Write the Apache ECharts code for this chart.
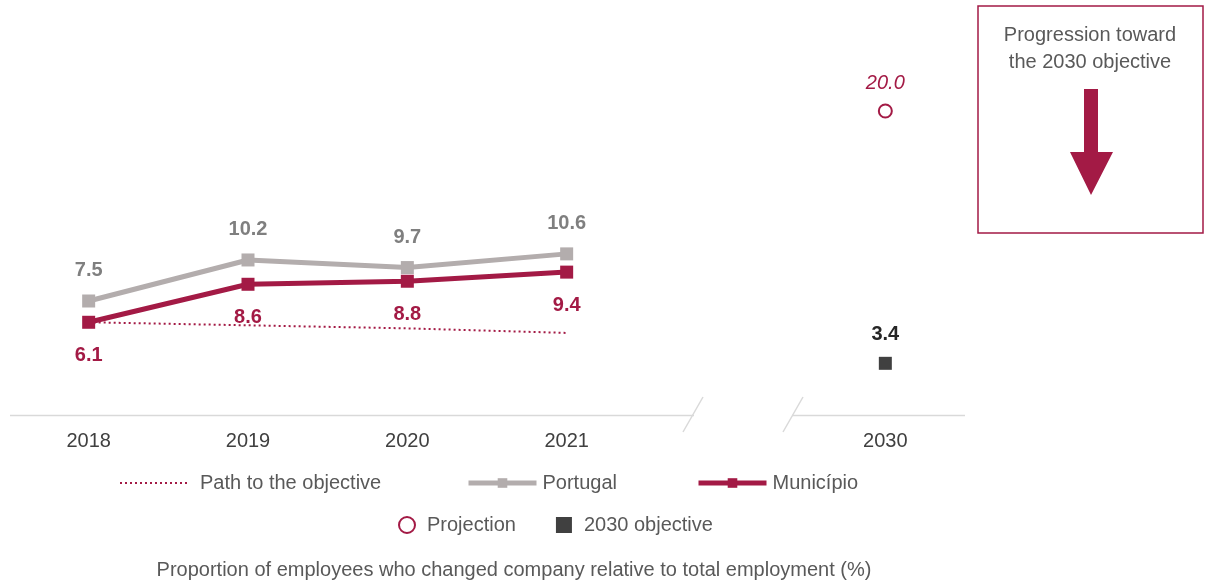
<!DOCTYPE html>
<html>
<head>
<meta charset="utf-8">
<script src="https://cdn.jsdelivr.net/npm/echarts/dist/echarts.min.js"></script>
<style>
  html, body { margin: 0; padding: 0; background: #fff; }
  #chart { width: 1206px; height: 585px; }
</style>
</head>
<body>
<div id="chart"></div>
<script>
const years = ['2018', '2019', '2020', '2021', '', '2030']
const pathToObjective = [6.1, 5.9, 5.7, 5.4, null, null]
const portugal = [7.5, 10.2, 9.7, 10.6, null, null]
const municipio = [6.1, 8.6, 8.8, 9.4, null, null]
const projection = [null, null, null, null, null, 20.0]
const objective2030 = [null, null, null, null, null, 3.4]

const CRIMSON = '#A31A45'
const GREY = '#B3ADAD'
const DARK = '#404040'
const FONT = '"Liberation Sans", Arial, sans-serif'

const chart = echarts.init(document.getElementById('chart'))

const legendText = { fontSize: 20, color: '#595959', fontFamily: FONT }

function lineLegend(name, left, gap, extra) {
  return {
    left,
    top: 473,
    padding: 0,
    itemWidth: 68,
    itemHeight: 12,
    textStyle: Object.assign({ padding: [0, 0, 0, gap] }, legendText),
    data: [Object.assign({ name }, extra || {})]
  }
}

chart.setOption({
  animation: false,
  textStyle: { fontFamily: FONT },
  grid: { left: 9, right: 241, top: 35, bottom: 170 },
  legend: [
    lineLegend('Path to the objective', 119, 7, { itemStyle: { opacity: 0 }, lineStyle: { width: 2 } }),
    lineLegend('Portugal', 466, 1, { lineStyle: { width: 5 } }),
    lineLegend('Município', 696, 1, { lineStyle: { width: 5 } }),
    {
      left: 398,
      top: 515,
      padding: 0,
      itemWidth: 16,
      itemHeight: 16,
      itemGap: 40,
      textStyle: Object.assign({ padding: [0, 0, 0, 7] }, legendText),
      data: [
        { name: 'Projection', icon: 'emptyCircle', itemStyle: { borderWidth: 2.5 } },
        { name: '2030 objective', icon: 'rect' }
      ]
    }
  ],
  xAxis: {
    type: 'category',
    data: years,
    boundaryGap: true,
    axisLine: { show: false },
    axisTick: { show: false },
    axisLabel: { color: '#404040', fontSize: 20, margin: 16, interval: 0 }
  },
  yAxis: {
    type: 'value',
    min: 0,
    max: 25,
    show: false,
    splitLine: { show: false }
  },
  series: [
    {
      name: 'Path to the objective',
      type: 'line',
      data: pathToObjective,
      symbol: 'none',
      lineStyle: { color: CRIMSON, width: 2, type: [2, 3] },
      itemStyle: { color: CRIMSON },
      z: 1
    },
    {
      name: 'Portugal',
      type: 'line',
      data: portugal,
      symbol: 'rect',
      symbolSize: 13,
      lineStyle: { color: GREY, width: 5 },
      itemStyle: { color: GREY },
      label: {
        show: true,
        position: 'top',
        distance: 14,
        color: '#7F7F7F',
        fontSize: 20,
        fontWeight: 'bold',
        formatter: (p) => p.value.toFixed(1)
      },
      z: 2
    },
    {
      name: 'Município',
      type: 'line',
      data: municipio,
      symbol: 'rect',
      symbolSize: 13,
      lineStyle: { color: CRIMSON, width: 5 },
      itemStyle: { color: CRIMSON },
      label: {
        show: true,
        position: 'bottom',
        distance: 17,
        color: CRIMSON,
        fontSize: 20,
        fontWeight: 'bold',
        formatter: (p) => p.value.toFixed(1)
      },
      z: 3
    },
    {
      name: 'Projection',
      type: 'scatter',
      data: projection,
      symbol: 'emptyCircle',
      symbolSize: 13,
      itemStyle: { color: CRIMSON, borderColor: CRIMSON, borderWidth: 2, opacity: 1 },
      label: {
        show: true,
        position: 'top',
        distance: 10,
        color: CRIMSON,
        fontSize: 20,
        fontStyle: 'italic',
        formatter: (p) => p.value.toFixed(1)
      }
    },
    {
      name: '2030 objective',
      type: 'scatter',
      data: objective2030,
      symbol: 'rect',
      symbolSize: 13,
      itemStyle: { color: DARK, opacity: 1 },
      label: {
        show: true,
        position: 'top',
        distance: 12,
        color: '#262626',
        fontSize: 20,
        fontWeight: 'bold',
        formatter: (p) => p.value.toFixed(1)
      }
    }
  ],
  graphic: [
    // broken x axis line
    { type: 'line', shape: { x1: 10, y1: 415.5, x2: 694, y2: 415.5 }, style: { stroke: '#D9D9D9', lineWidth: 1.5 } },
    { type: 'line', shape: { x1: 792, y1: 415.5, x2: 965, y2: 415.5 }, style: { stroke: '#D9D9D9', lineWidth: 1.5 } },
    { type: 'line', shape: { x1: 703, y1: 397, x2: 683, y2: 432 }, style: { stroke: '#D9D9D9', lineWidth: 1.5 } },
    { type: 'line', shape: { x1: 803, y1: 397, x2: 783, y2: 432 }, style: { stroke: '#D9D9D9', lineWidth: 1.5 } },
    // progression box
    {
      type: 'rect',
      shape: { x: 978, y: 6, width: 225, height: 227 },
      style: { fill: '#fff', stroke: CRIMSON, lineWidth: 1.5 }
    },
    {
      type: 'text',
      x: 1090,
      y: 22,
      style: {
        text: 'Progression toward\nthe 2030 objective',
        fill: '#595959',
        font: '20px ' + FONT,
        align: 'center',
        lineHeight: 27
      }
    },
    {
      type: 'polygon',
      shape: {
        points: [[1084, 89], [1098, 89], [1098, 152], [1113, 152], [1091, 195], [1070, 152], [1084, 152]]
      },
      style: { fill: CRIMSON }
    },
    {
      type: 'text',
      x: 514,
      y: 570,
      style: {
        text: 'Proportion of employees who changed company relative to total employment (%)',
        fill: '#595959',
        font: '20px ' + FONT,
        align: 'center',
        verticalAlign: 'middle'
      }
    }
  ]
})
</script>
</body>
</html>
